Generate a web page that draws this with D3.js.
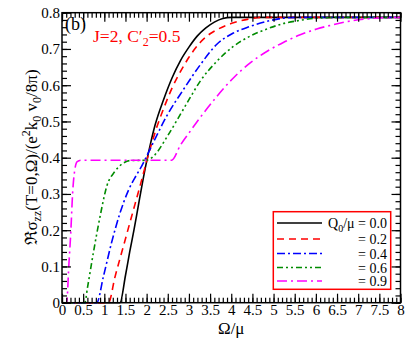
<!DOCTYPE html>
<html>
<head>
<meta charset="utf-8">
<script src="https://cdn.jsdelivr.net/npm/d3@7"></script>
<style>
  body { margin: 0; background: #fff; }
  svg { display: block; font-family: 'Liberation Serif', 'DejaVu Serif', serif; }
</style>
</head>
<body>
<script>
// values: [Omega/mu, Re sigma_zz]
const q00 = [[0, 0], [1.37, 0], [1.5, 0.075], [1.6, 0.14], [1.7, 0.2], [1.8, 0.265], [1.9, 0.33],
  [2.0, 0.39], [2.1, 0.443], [2.2, 0.49], [2.4, 0.56], [2.6, 0.62], [2.8, 0.668], [3.0, 0.705],
  [3.2, 0.736], [3.4, 0.758], [3.6, 0.774], [3.8, 0.784], [4.0, 0.787], [8, 0.787]];
const q02 = [[0, 0], [1.1, 0], [1.25, 0.07], [1.45, 0.155], [1.65, 0.24], [1.84, 0.32], [2.0, 0.39],
  [2.2, 0.47], [2.4, 0.535], [2.6, 0.592], [2.87, 0.652], [3.0, 0.677], [3.26, 0.717], [3.5, 0.742],
  [3.66, 0.753], [4.05, 0.772], [4.44, 0.783], [4.7, 0.787], [8, 0.787]];
const q04 = [[0, 0], [0.82, 0], [0.98, 0.073], [1.17, 0.165], [1.37, 0.247], [1.57, 0.31], [1.75, 0.35],
  [1.88, 0.376], [2.0, 0.404], [2.2, 0.452], [2.47, 0.514], [2.87, 0.588], [3.26, 0.655], [3.66, 0.713],
  [4.05, 0.744], [4.44, 0.762], [4.84, 0.776], [5.23, 0.785], [5.5, 0.787], [8, 0.787]];
const q06 = [[0, 0], [0.54, 0], [0.6, 0.04], [0.74, 0.137], [0.9, 0.238], [1.06, 0.322], [1.25, 0.362],
  [1.45, 0.385], [1.6, 0.392], [2.0, 0.393], [2.16, 0.404], [2.51, 0.463], [2.8, 0.52], [3.0, 0.56],
  [3.26, 0.61], [3.66, 0.666], [4.05, 0.707], [4.44, 0.735], [4.84, 0.755], [5.23, 0.77], [5.63, 0.779],
  [6.02, 0.785], [6.5, 0.787], [8, 0.787]];
const q09 = [[0, 0], [0.11, 0], [0.16, 0.1], [0.21, 0.2], [0.25, 0.3], [0.3, 0.365], [0.36, 0.389],
  [0.45, 0.393], [2.59, 0.393], [2.8, 0.435], [3.0, 0.468], [3.26, 0.51], [3.66, 0.569], [4.05, 0.62],
  [4.44, 0.661], [4.84, 0.693], [5.23, 0.718], [5.63, 0.739], [6.02, 0.755], [6.41, 0.767], [6.81, 0.777],
  [7.2, 0.783], [7.6, 0.786], [8, 0.787]];

const seriesData = [q00, q02, q04, q06, q09];
const seriesLabels = ['0.0', '0.2', '0.4', '0.6', '0.9'];
const seriesColors = ['#000000', '#ff0000', '#0000ff', '#008b00', '#ff00ff'];
const seriesDash = [null, '7,5', '8,3,2,3', '6,3,2,3,2,3', '10,4,2,4'];

const xMajor = d3.range(0, 8.001, 0.5);
const xMinor = d3.range(0, 8.001, 0.1);
const yMajor = d3.range(0, 0.8001, 0.1);
const yMinor = d3.range(0, 0.8001, 0.02);

const width = 415;
const height = 346;
const plotLeft = 62;
const plotRight = 400.5;
const plotTop = 12.7;
const plotBottom = 302.7;

const svg = d3.select('body')
  .append('svg')
  .attr('width', width)
  .attr('height', height);

const x = d3.scaleLinear().domain([0, 8]).range([plotLeft, plotRight]);
const y = d3.scaleLinear().domain([0, 0.8]).range([plotBottom, plotTop]);

function fmt(d) {
  return d3.format('~g')(+d.toFixed(2));
}

// curves first, so the frame sits on top
const line = d3.line()
  .x(d => x(d[0]))
  .y(d => y(d[1]))
  .curve(d3.curveMonotoneX);

svg.append('g')
  .attr('class', 'curves')
  .selectAll('path')
  .data(seriesData)
  .enter()
  .append('path')
  .attr('d', line)
  .attr('fill', 'none')
  .attr('stroke', (d, i) => seriesColors[i])
  .attr('stroke-width', 1.6)
  .attr('stroke-dasharray', (d, i) => seriesDash[i]);

// axes: ticks point inward on all four sides
function styleAxis(g) {
  g.select('.domain').remove();
  g.selectAll('line').attr('stroke', '#000').attr('stroke-width', 1.2);
  g.selectAll('text').attr('font-size', 15).attr('fill', '#000')
    .attr('font-family', "'Liberation Serif', serif");
}

svg.append('g')
  .attr('transform', `translate(0,${plotBottom})`)
  .call(d3.axisBottom(x).tickValues(xMinor).tickSize(-5).tickFormat(''))
  .call(styleAxis);
svg.append('g')
  .attr('transform', `translate(0,${plotBottom})`)
  .call(d3.axisBottom(x).tickValues(xMajor).tickSize(-9).tickPadding(2).tickFormat(fmt))
  .call(styleAxis);
svg.append('g')
  .attr('transform', `translate(0,${plotTop})`)
  .call(d3.axisTop(x).tickValues(xMinor).tickSize(-5).tickFormat(''))
  .call(styleAxis);
svg.append('g')
  .attr('transform', `translate(0,${plotTop})`)
  .call(d3.axisTop(x).tickValues(xMajor).tickSize(-9).tickFormat(''))
  .call(styleAxis);

svg.append('g')
  .attr('transform', `translate(${plotLeft},0)`)
  .call(d3.axisLeft(y).tickValues(yMinor).tickSize(-5).tickFormat(''))
  .call(styleAxis);
svg.append('g')
  .attr('transform', `translate(${plotLeft},0)`)
  .call(d3.axisLeft(y).tickValues(yMajor).tickSize(-9).tickPadding(2).tickFormat(fmt))
  .call(styleAxis);
svg.append('g')
  .attr('transform', `translate(${plotRight},0)`)
  .call(d3.axisRight(y).tickValues(yMinor).tickSize(-5).tickFormat(''))
  .call(styleAxis);
svg.append('g')
  .attr('transform', `translate(${plotRight},0)`)
  .call(d3.axisRight(y).tickValues(yMajor).tickSize(-9).tickFormat(''))
  .call(styleAxis);

svg.append('rect')
  .attr('x', plotLeft)
  .attr('y', plotTop)
  .attr('width', plotRight - plotLeft)
  .attr('height', plotBottom - plotTop)
  .attr('fill', 'none')
  .attr('stroke', '#000')
  .attr('stroke-width', 1.5);

// axis titles
svg.append('text')
  .attr('x', (plotLeft + plotRight) / 2)
  .attr('y', 333.5)
  .attr('text-anchor', 'middle')
  .attr('font-size', 17)
  .text('Ω/μ');

const yTitle = svg.append('text')
  .attr('transform', 'translate(37,157) rotate(-90)')
  .attr('text-anchor', 'middle')
  .attr('font-size', 17);
yTitle.append('tspan').text('ℜσ');
yTitle.append('tspan').attr('dy', 4).attr('font-size', 12).text('zz');
yTitle.append('tspan').attr('dy', -4).text('(T=0,Ω)/(e');
yTitle.append('tspan').attr('dy', -7).attr('font-size', 12).text('2');
yTitle.append('tspan').attr('dy', 7).text('k');
yTitle.append('tspan').attr('dy', 4).attr('font-size', 12).text('0');
yTitle.append('tspan').attr('dy', -4).text(' v');
yTitle.append('tspan').attr('dy', 4).attr('font-size', 12).text('0');
yTitle.append('tspan').attr('dy', -4).text('/8π)');

// panel labels
svg.append('text')
  .attr('x', 65)
  .attr('y', 29.5)
  .attr('font-size', 18)
  .text('(b)');

const jLabel = svg.append('text')
  .attr('x', 93)
  .attr('y', 41.5)
  .attr('font-size', 17.5)
  .attr('fill', '#ff0000');
jLabel.append('tspan').text('J=2, C');
jLabel.append('tspan').text('′');
jLabel.append('tspan').attr('dy', 4).attr('font-size', 12).text('2');
jLabel.append('tspan').attr('dy', -4).text('=0.5');

// legend
const legendRows = [223, 239, 253.5, 267.5, 281];
const legend = svg.append('g').attr('class', 'legend');
legend.append('rect')
  .attr('x', 273.3)
  .attr('y', 211.7)
  .attr('width', 117.4)
  .attr('height', 77.6)
  .attr('fill', '#fff')
  .attr('stroke', '#ff0000')
  .attr('stroke-width', 1.5);

const items = legend.selectAll('.legend-item')
  .data(seriesLabels)
  .enter()
  .append('g')
  .attr('class', 'legend-item')
  .attr('transform', (d, i) => `translate(0,${legendRows[i]})`);
items.append('line')
  .attr('x1', 277)
  .attr('x2', 322)
  .attr('stroke', (d, i) => seriesColors[i])
  .attr('stroke-width', 1.6)
  .attr('stroke-dasharray', (d, i) => seriesDash[i]);
items.each(function (d, i) {
  const t = d3.select(this).append('text')
    .attr('x', 387)
    .attr('y', 5)
    .attr('text-anchor', 'end')
    .attr('font-size', 14);
  if (i === 0) {
    t.append('tspan').text('Q');
    t.append('tspan').attr('dy', 4).attr('font-size', 10).text('0');
    t.append('tspan').attr('dy', -4).text(`/μ = ${d}`);
  } else {
    t.text(`= ${d}`);
  }
});
</script>
</body>
</html>
